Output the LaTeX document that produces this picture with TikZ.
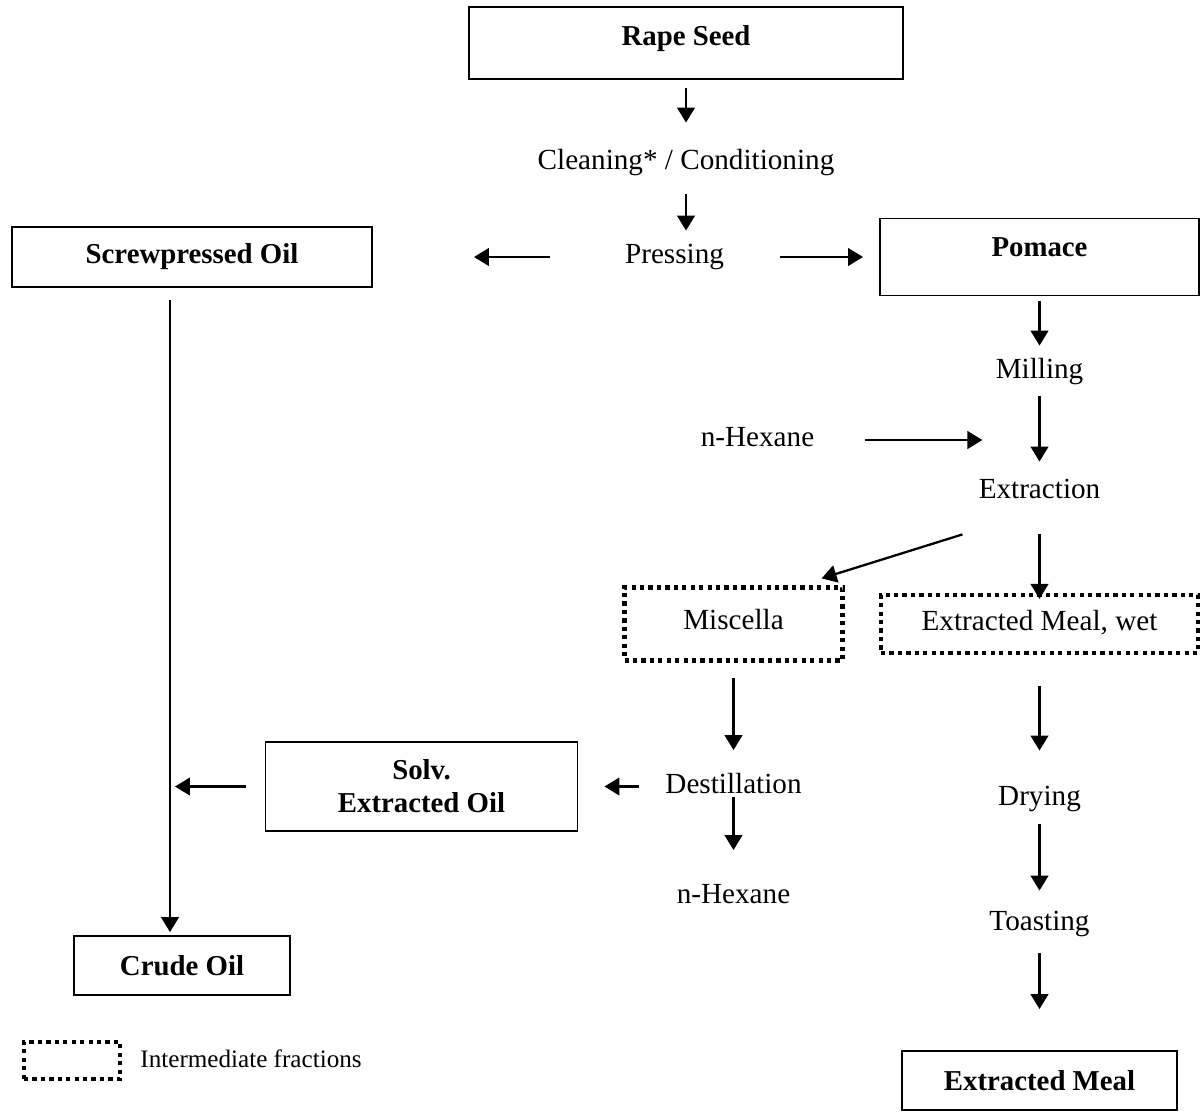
\documentclass[tikz,border=0pt]{standalone}
\usepackage{fontspec}
\setmainfont{Liberation Serif}
\usepackage{tikz}
\usetikzlibrary{positioning, arrows.meta}

\begin{document}
\begin{tikzpicture}[on grid,
		txt/.style={inner sep=0pt, text height=11.3pt, text depth=3.6pt, font=\fontsize{16.6pt}{18.8pt}\selectfont},
		stage/.style={txt},
		outbox/.style={draw, line width=1.1pt, inner sep=0pt, align=center, font=\fontsize{16.4pt}{18.8pt}\selectfont\bfseries},
		midbox/.style={txt, draw, line width=2.4pt, dash pattern=on 2.4pt off 2.4pt},
		flow/.style={-{Triangle[length=8.5pt, width=10pt]}, line width=1.3pt}]
		\useasboundingbox (0,0) rectangle (24.02,-22.22);

		\node[outbox, minimum width=8.68cm, minimum height=1.44cm, text depth=8.2pt]	(rape) at (13.72,-0.86) {Rape Seed};
		\node[stage, below=2.4cm of rape]	(clean) {Cleaning* / Conditioning};
		\node[stage, below left=1.88cm and 0.23cm of clean]	(press) {Pressing};
		\node[outbox, minimum width=7.2cm, minimum height=1.2cm, left=9.65cm of press]	(screw) {Screwpressed Oil};
		\node[outbox, minimum width=6.38cm, minimum height=1.54cm, text depth=11pt, right=7.3cm of press]	(pomace) {Pomace};
		\node[stage, below=2.3cm of pomace]	(milling) {Milling};
		\node[stage, below=2.4cm of milling]	(extract) {Extraction};
		\node[stage, above left=1.04cm and 5.64cm of extract]	(hexA) {n-Hexane};
		\node[midbox, minimum width=6.34cm, minimum height=1.16cm, below=2.64cm of extract]	(wet) {Extracted Meal, wet};
		\node[midbox, minimum width=4.36cm, minimum height=1.46cm, text depth=5.3pt, left=6.12cm of wet]	(miscella) {Miscella};
		\node[stage, below=3.25cm of miscella]	(destill) {Destillation};
		\node[stage, below=2.2cm of destill]	(hexB) {n-Hexane};
		\node[outbox, minimum width=6.24cm, minimum height=1.78cm, left=6.24cm of destill]	(solv) {Solv.\\Extracted Oil};
		\node[outbox, minimum width=4.32cm, minimum height=1.18cm, below left=14.17cm and 0.2cm of screw]	(crude) {Crude Oil};
		\node[stage, below=3.5cm of wet]	(drying) {Drying};
		\node[stage, below=2.5cm of drying]	(toast) {Toasting};
		\node[outbox, minimum width=5.5cm, minimum height=1.18cm, below=3.13cm of toast]	(meal) {Extracted Meal};
		\node[midbox, minimum width=1.92cm, minimum height=0.74cm, below left=1.9cm and 2.2cm of crude]	(legbox) {};
		\node[txt, font=\fontsize{14.3pt}{17pt}\selectfont, on grid=false, right=0.36cm of legbox]	(legtext) {Intermediate fractions};
		\coordinate (drop) at ([xshift=-0.24cm]crude.north);

		\draw[flow, shorten <=0.16cm, shorten >=0.54cm] (rape.south) -- (rape.south |- clean.north);
		\draw[flow, shorten <=0.36cm, shorten >=0.26cm] (clean.south) -- (clean.south |- press.north);
		\draw[flow, shorten <=1.5cm, shorten >=2.02cm] (press.west) -- (press.west -| screw.east);
		\draw[flow, shorten <=1.12cm, shorten >=0.32cm] (press.east) -- (press.east -| pomace.west);
		\draw[flow, shorten <=0.1cm, shorten >=0.26cm] (pomace.south) -- (milling.north);
		\draw[flow, shorten <=0.22cm, shorten >=0.34cm] (milling.south) -- (milling.south |- extract.north);
		\draw[flow, shorten <=1cm, shorten >=-0.08cm] (hexA.east) -- (hexA.east -| extract.west);
		\draw[flow] ([xshift=-0.32cm, yshift=-0.58cm]extract.south west) -- ([xshift=-0.46cm, yshift=0.14cm]miscella.north east);
		\draw[flow, shorten <=0.58cm, shorten >=-0.12cm] (extract.south) -- (extract.south |- wet.north);
		\draw[flow, shorten <=0.62cm, shorten >=0.7cm] (wet.south) -- (drying.north);
		\draw[flow, shorten <=0.24cm, shorten >=0.4cm] (drying.south) -- (toast.north);
		\draw[flow, shorten <=0.32cm, shorten >=0.82cm] (toast.south) -- (meal.north);
		\draw[flow, shorten <=0.3cm, shorten >=0.46cm] (miscella.south) -- (destill.north);
		\draw[flow, shorten <=-0.06cm, shorten >=0.66cm] (destill.south) -- (hexB.north);
		\draw[flow, shorten <=0.52cm, shorten >=0.52cm] (destill.west) -- (destill.west -| solv.east);
		\draw[flow, shorten <=0.38cm, shorten >=0.1cm] (solv.west) -- (solv.west -| drop);
		\draw[flow, shorten <=0.24cm, shorten >=0.06cm] (drop |- screw.south) -- (drop);
	\end{tikzpicture}
\end{document}
